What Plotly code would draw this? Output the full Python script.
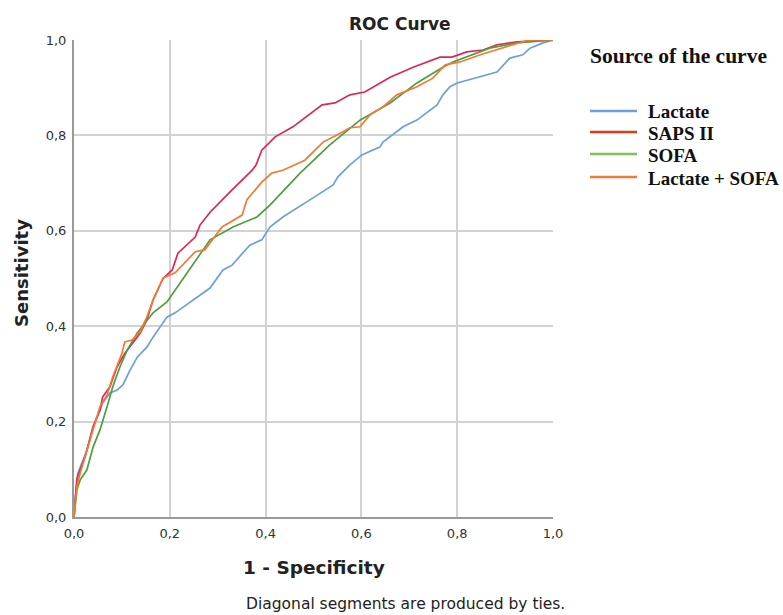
import plotly.graph_objects as go

# ---- data ----
lactate_x = [0.0, 0.002, 0.008, 0.027, 0.04, 0.054, 0.06, 0.075, 0.09, 0.102, 0.117, 0.132, 0.152, 0.165, 0.18, 0.194, 0.211, 0.228, 0.248, 0.284, 0.311, 0.33, 0.367, 0.392, 0.409, 0.436, 0.499, 0.541, 0.551, 0.576, 0.601, 0.639, 0.645, 0.687, 0.716, 0.758, 0.77, 0.785, 0.8, 0.883, 0.91, 0.937, 0.952, 0.979, 1.0]
lactate_y = [0.0, 0.036, 0.092, 0.14, 0.187, 0.225, 0.239, 0.26, 0.266, 0.277, 0.308, 0.335, 0.356, 0.377, 0.398, 0.419, 0.428, 0.44, 0.455, 0.48, 0.518, 0.528, 0.57, 0.581, 0.608, 0.629, 0.669, 0.696, 0.713, 0.738, 0.759, 0.776, 0.786, 0.818, 0.832, 0.864, 0.885, 0.902, 0.91, 0.933, 0.962, 0.969, 0.983, 0.994, 1.0]

saps_x = [0.0, 0.006, 0.023, 0.04, 0.054, 0.06, 0.075, 0.09, 0.106, 0.123, 0.138, 0.152, 0.165, 0.186, 0.205, 0.217, 0.253, 0.263, 0.284, 0.33, 0.372, 0.38, 0.392, 0.42, 0.457, 0.518, 0.545, 0.576, 0.607, 0.66, 0.708, 0.764, 0.789, 0.82, 0.854, 0.883, 0.925, 1.0]
saps_y = [0.0, 0.08, 0.126, 0.19, 0.224, 0.252, 0.273, 0.315, 0.343, 0.365, 0.385, 0.413, 0.455, 0.5, 0.518, 0.553, 0.587, 0.612, 0.639, 0.686, 0.727, 0.738, 0.769, 0.797, 0.818, 0.864, 0.868, 0.885, 0.891, 0.922, 0.943, 0.964, 0.964, 0.975, 0.979, 0.99, 0.996, 1.0]

sofa_x = [0.0, 0.006, 0.013, 0.027, 0.04, 0.054, 0.069, 0.081, 0.096, 0.111, 0.132, 0.165, 0.194, 0.236, 0.284, 0.332, 0.382, 0.409, 0.472, 0.534, 0.597, 0.66, 0.716, 0.77, 0.791, 0.868, 0.925, 1.0]
sofa_y = [0.0, 0.057, 0.078, 0.099, 0.147, 0.182, 0.231, 0.273, 0.315, 0.35, 0.386, 0.428, 0.451, 0.512, 0.581, 0.608, 0.629, 0.654, 0.721, 0.78, 0.832, 0.868, 0.91, 0.943, 0.954, 0.983, 0.994, 1.0]

combo_x = [0.0, 0.006, 0.013, 0.027, 0.04, 0.054, 0.069, 0.081, 0.1, 0.106, 0.121, 0.138, 0.152, 0.165, 0.186, 0.211, 0.253, 0.273, 0.309, 0.351, 0.361, 0.392, 0.413, 0.436, 0.482, 0.499, 0.52, 0.549, 0.576, 0.597, 0.618, 0.645, 0.674, 0.716, 0.749, 0.775, 0.806, 0.848, 0.883, 0.916, 0.95, 1.0]
combo_y = [0.0, 0.063, 0.092, 0.14, 0.187, 0.231, 0.256, 0.294, 0.343, 0.367, 0.371, 0.388, 0.419, 0.455, 0.501, 0.512, 0.556, 0.56, 0.608, 0.633, 0.665, 0.702, 0.721, 0.727, 0.748, 0.765, 0.786, 0.801, 0.816, 0.818, 0.843, 0.86, 0.885, 0.902, 0.92, 0.948, 0.954, 0.969, 0.979, 0.99, 1.0, 1.0]

series_names = ["Lactate", "SAPS II", "SOFA", "Lactate + SOFA"]
series_colors = ["#6d9fdc", "#d9285a", "#4e9e3e", "#f17a35"]
legend_colors = ["#6d9fdc", "#e2391c", "#7cc352", "#f17a35"]
tick_vals = [0.0, 0.2, 0.4, 0.6, 0.8, 1.0]

W, H = 783, 615
ML, MR, MT, MB = 74, 230, 40, 98
PW, PH = W - ML - MR, H - MT - MB


def px2x(px):
    return (px - ML) / PW


def py2y(py):
    return (MT + PH - py) / PH


fig = go.Figure()
for name, xs, ys, col in zip(series_names,
                              [lactate_x, saps_x, sofa_x, combo_x],
                              [lactate_y, saps_y, sofa_y, combo_y],
                              series_colors):
    fig.add_trace(go.Scatter(x=xs, y=ys, mode="lines", name=name,
                             line=dict(color=col, width=1.7)))

axis_common = dict(range=[0, 1], tickvals=tick_vals, tickformat=".1f",
                   showgrid=True, gridcolor="#d2d2d2", gridwidth=2,
                   zeroline=False, showline=True, linecolor="#9a9a9a", linewidth=2,
                   ticks="", tickfont=dict(family="DejaVu Sans", size=13, color="#333333"))

fig.update_layout(
    width=W, height=H,
    margin=dict(l=ML, r=MR, t=MT, b=MB),
    paper_bgcolor="white", plot_bgcolor="white",
    separators=", ",
    showlegend=False,
    xaxis=dict(**axis_common),
    yaxis=dict(**axis_common),
)
fig.update_xaxes(ticklabelstandoff=3)
fig.update_yaxes(ticklabelstandoff=3)

fig.add_annotation(text="<b>ROC Curve</b>", x=px2x(400), y=py2y(24), xref="paper", yref="paper",
                   xanchor="center", yanchor="middle", showarrow=False,
                   font=dict(family="DejaVu Sans", size=17, color="#222222"))
fig.add_annotation(text="<b>1 - Specificity</b>", x=0.5, y=py2y(567), xref="paper", yref="paper",
                   xanchor="center", yanchor="middle", showarrow=False,
                   font=dict(family="DejaVu Sans", size=18.5, color="#222222"))
fig.add_annotation(text="<b>Sensitivity</b>", x=px2x(21), y=py2y(273), xref="paper", yref="paper",
                   xanchor="center", yanchor="middle", textangle=-90, showarrow=False,
                   font=dict(family="DejaVu Sans", size=18, color="#222222"))
fig.add_annotation(text="Diagonal segments are produced by ties.", x=px2x(244), y=py2y(604),
                   xref="paper", yref="paper", xanchor="left", yanchor="middle", showarrow=False,
                   font=dict(family="DejaVu Sans", size=15.5, color="#222222"))

# manual legend
fig.add_annotation(text="<b>Source of the curve</b>", x=px2x(588), y=py2y(56), xref="paper", yref="paper",
                   xanchor="left", yanchor="middle", showarrow=False,
                   font=dict(family="Liberation Serif", size=21.5, color="#111111"))
legend_rows = [111, 132, 154, 177]
for name, col, ry in zip(series_names, legend_colors, legend_rows):
    fig.add_shape(type="line", xref="paper", yref="paper",
                  x0=px2x(590), x1=px2x(637), y0=py2y(ry), y1=py2y(ry),
                  line=dict(color=col, width=2.5))
    fig.add_annotation(text="<b>" + name + "</b>", x=px2x(646), y=py2y(ry + 1),
                       xref="paper", yref="paper", xanchor="left", yanchor="middle",
                       showarrow=False,
                       font=dict(family="Liberation Serif", size=19, color="#111111"))

fig.write_html("out.html", config={"displayModeBar": False},
               post_script="document.body.style.margin='0';")
